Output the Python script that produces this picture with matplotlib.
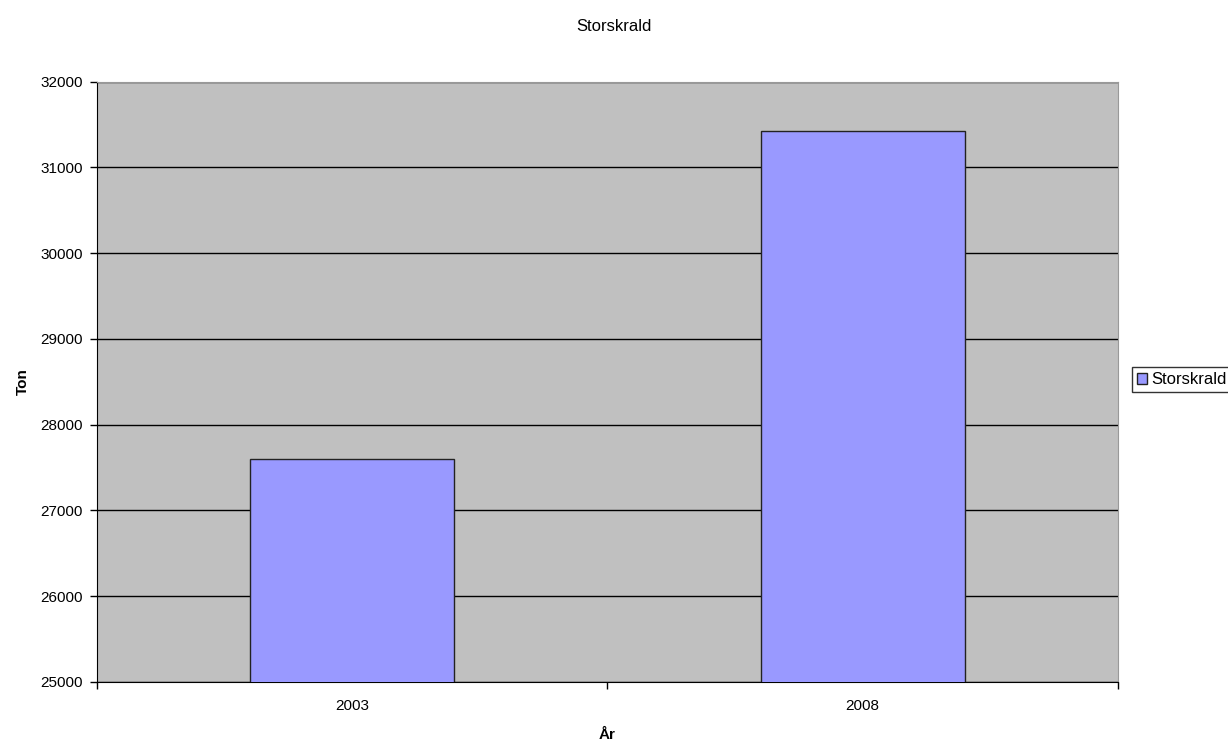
import matplotlib.pyplot as plt
from matplotlib.ticker import MultipleLocator

years = ["2003", "2008"]
tons = [27600, 31425]
series_name = "Storskrald"

plt.rcParams["font.family"] = ["Liberation Sans", "DejaVu Sans"]
plt.rcParams["font.size"] = 11

fig = plt.figure(figsize=(12.28, 7.45), dpi=100)
ax = fig.add_axes([0.079, 0.0846, 0.8314, 0.806])
ax.set_facecolor("#c0c0c0")

pos = list(range(len(years)))
ax.bar(pos, tons, width=0.4, color="#9999ff", edgecolor="#222222",
       linewidth=1.0, label=series_name, zorder=3)

ax.set_xlim(-0.5, len(years) - 0.5)
ax.set_ylim(25000, 32000)
ax.yaxis.set_major_locator(MultipleLocator(1000))
ax.grid(axis="y", color="black", linewidth=1.0, zorder=1)

# category boundary ticks, labels in the middle
ax.set_xticks([p - 0.5 for p in pos] + [len(years) - 0.5])
ax.set_xticklabels([])
ax.set_xticks(pos, minor=True)
ax.set_xticklabels(years, minor=True)
ax.tick_params(axis="x", which="minor", length=0, pad=12)
ax.tick_params(axis="x", which="major", length=5, width=1)
ax.tick_params(axis="y", length=5, width=1, pad=5)

for side in ["top", "right"]:
    ax.spines[side].set_color("#999999")
for side in ["left", "bottom"]:
    ax.spines[side].set_color("black")

ax.set_xlabel("År", fontweight="bold", labelpad=11)
ax.set_ylabel("Ton", fontweight="bold", labelpad=8)
fig.suptitle("Storskrald", y=0.975, fontsize=12)

leg = fig.legend(loc="upper left", bbox_to_anchor=(0.9218, 0.507),
                 frameon=True, fancybox=False, shadow=False, fontsize=12,
                 handlelength=0.6, handleheight=0.6, handletextpad=0.25,
                 borderpad=0.3, borderaxespad=0)
leg.get_frame().set_edgecolor("black")
leg.get_frame().set_linewidth(1.0)

fig.savefig("out.png", dpi=100)
